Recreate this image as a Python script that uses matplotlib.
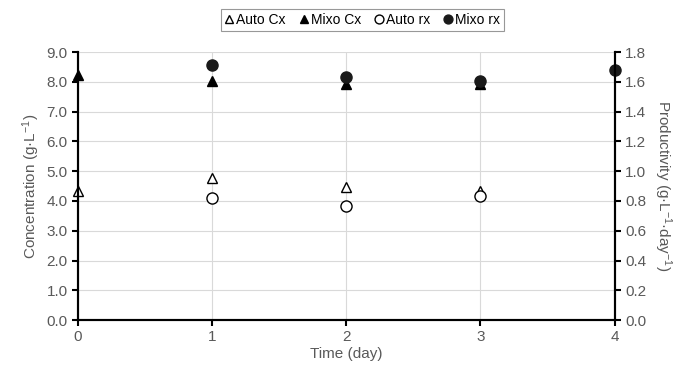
import matplotlib.pyplot as plt

plt.rcParams["font.family"] = ["Liberation Sans", "DejaVu Sans"]
plt.rcParams["mathtext.default"] = "regular"

# Données
jours_auto_cx = [0, 1, 2, 3]
auto_cx = [4.32, 4.77, 4.47, 4.35]
jours_mixo_cx = [0, 1, 2, 3]
mixo_cx = [8.22, 8.02, 7.93, 7.93]
jours_auto_rx = [1, 2, 3]
auto_rx = [0.82, 0.765, 0.83]
jours_mixo_rx = [1, 2, 3, 4]
mixo_rx = [1.71, 1.63, 1.605, 1.68]

gris = "#595959"

fig = plt.figure(figsize=(6.75, 3.77), dpi=100)
ax = fig.add_axes([0.1156, 0.151, 0.795, 0.711])
ax2 = ax.twinx()

ax.plot(jours_auto_cx, auto_cx, "^", mfc="white", mec="black", ms=7, mew=1, clip_on=False, label="Auto Cx")
ax.plot(jours_mixo_cx, mixo_cx, "^", mfc="black", mec="black", ms=7, clip_on=False, label="Mixo Cx")
ax2.plot(jours_auto_rx, auto_rx, "o", mfc="white", mec="black", ms=8, mew=1, clip_on=False, label="Auto rx")
ax2.plot(jours_mixo_rx, mixo_rx, "o", mfc="#1a1a1a", mec="#1a1a1a", ms=8, clip_on=False, label="Mixo rx")

ax.set_xlim(0, 4)
ax.set_ylim(0, 9)
ax2.set_ylim(0, 1.8)
ax.set_xticks(range(5))
ax.set_yticks([i * 1.0 for i in range(10)])
ax.set_yticklabels([f"{i:.1f}" for i in range(10)])
ax2.set_yticks([i * 0.2 for i in range(10)])
ax2.set_yticklabels([f"{i * 0.2:.1f}" for i in range(10)])

ax.grid(True, color="#d9d9d9", linewidth=0.8)
ax.set_axisbelow(True)

for a in (ax, ax2):
    a.spines["top"].set_visible(False)
    for s in ("left", "right", "bottom"):
        a.spines[s].set_linewidth(1.5)
        a.spines[s].set_color("black")
    a.tick_params(colors="black", labelcolor=gris, labelsize=11, width=1.5, length=4)

ax.set_xlabel("Time (day)", color=gris, fontsize=11, labelpad=2)
ax.set_ylabel("Concentration (g·L$^{-1}$)", color=gris, fontsize=11, labelpad=3)
ax2.set_ylabel("Productivity (g·L$^{-1}$·day$^{-1}$)", color=gris, fontsize=11, rotation=270, labelpad=20)

h1, l1 = ax.get_legend_handles_labels()
h2, l2 = ax2.get_legend_handles_labels()
leg = fig.legend(h1 + h2, l1 + l2, loc="upper center", bbox_to_anchor=(0.537, 0.995), ncol=4,
                 fontsize=10, frameon=True, fancybox=False, edgecolor="#7f7f7f",
                 handlelength=0.6, handletextpad=0.2, columnspacing=1.0, markerscale=0.8,
                 borderpad=0.3)
leg.get_frame().set_linewidth(0.8)

fig.savefig("out.png", dpi=100)
